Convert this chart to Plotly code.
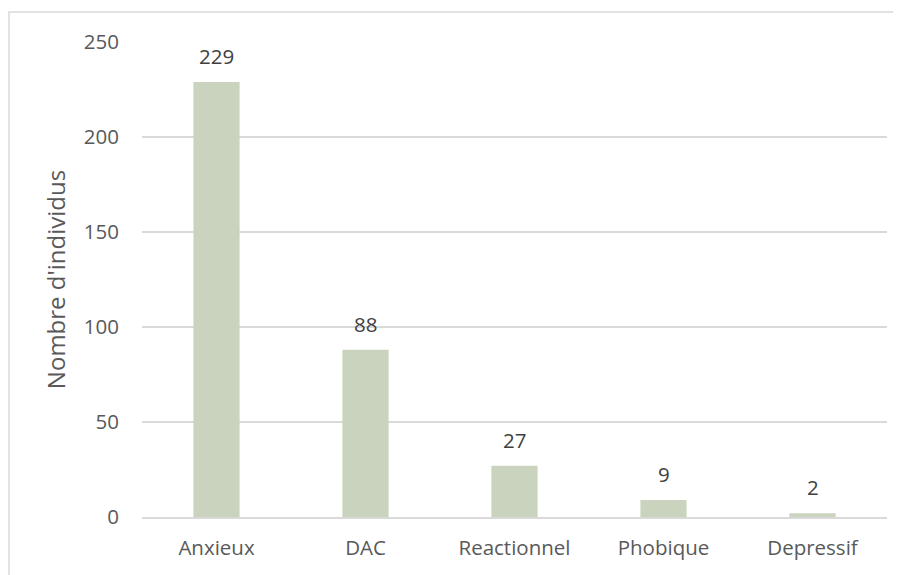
import plotly.graph_objects as go

categories = ["Anxieux", "DAC", "Reactionnel", "Phobique", "Depressif"]
values = [229, 88, 27, 9, 2]
y_ticks = [0, 50, 100, 150, 200, 250]
y_title = "Nombre d'individus"

FONT = "Open Sans"
FS = 20.5
TXT = "#595959"
GRID = "#d9d9d9"
BAR = "#c9d3be"

L, R, T, B = 134, 22, 34, 66
PW, PH = 901 - L - R, 575 - T - B

fig = go.Figure()
fig.add_trace(go.Bar(
    x=categories, y=values, marker=dict(color=BAR, line=dict(width=0)),
    width=0.31, hoverinfo="skip",
))

for c, v in zip(categories, values):
    fig.add_annotation(x=c, y=v, text=str(v), showarrow=False, yanchor="bottom",
                       yshift=10, font=dict(family=FONT, size=FS, color="#404040"))

# outer frame (top and left edges visible)
fig.add_shape(type="rect", xref="paper", yref="paper",
              x0=(1 - L) / PW, x1=2, y0=-1, y1=(575 - B - 4) / PH,
              line=dict(color=GRID, width=1.5), layer="below")

fig.update_layout(
    width=901, height=575,
    margin=dict(l=L, r=R, t=T, b=B),
    paper_bgcolor="white", plot_bgcolor="white",
    showlegend=False,
    font=dict(family=FONT, size=FS, color=TXT),
)
fig.update_xaxes(showgrid=False, showline=True, linecolor=GRID, linewidth=1.5,
                 ticks="", ticklabelstandoff=12, automargin=False,
                 tickfont=dict(family=FONT, size=FS, color=TXT))
fig.update_yaxes(range=[0, 250], tickvals=y_ticks, showgrid=True, gridcolor=GRID,
                 gridwidth=1.5, zeroline=False, showline=False, ticks="",
                 ticklabelstandoff=22, automargin=False,
                 tickfont=dict(family=FONT, size=FS, color=TXT),
                 title=dict(text=y_title, standoff=11,
                            font=dict(family=FONT, size=24, color=TXT)))

fig.write_html("out.html")
